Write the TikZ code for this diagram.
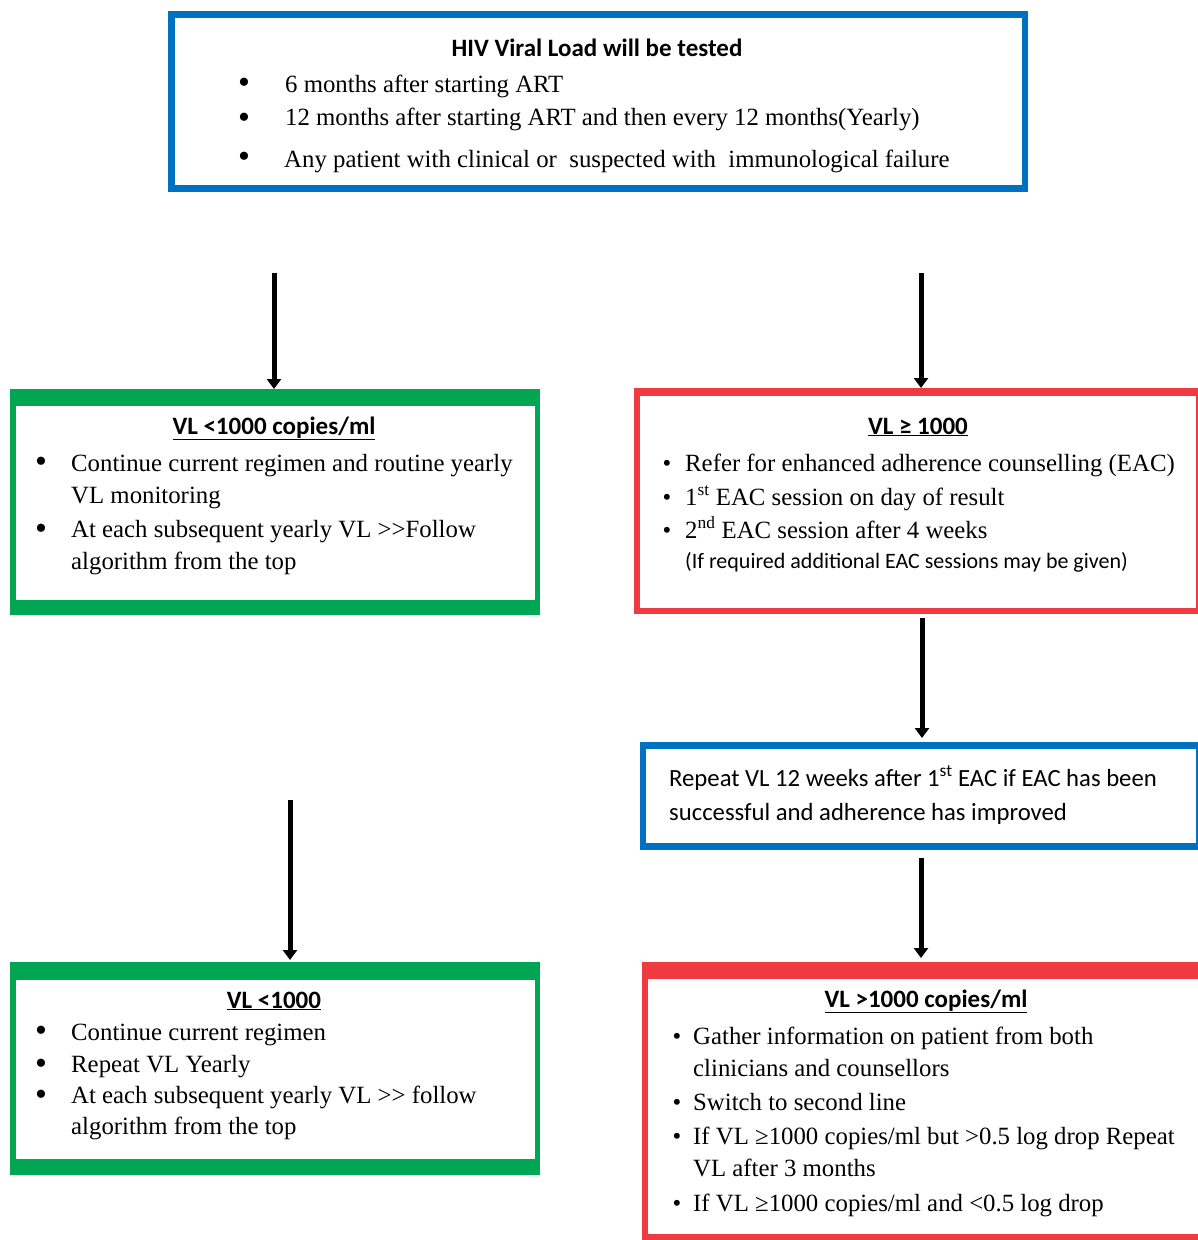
\documentclass[tikz,border=0pt]{standalone}
\usepackage{fontspec}
\setmainfont{Liberation Serif}
\newfontfamily\calib{Carlito}
\usetikzlibrary{arrows.meta}
\definecolor{bl}{RGB}{0,112,192}
\definecolor{gr}{RGB}{0,166,81}
\definecolor{rd}{RGB}{238,58,64}
\begin{document}
\begin{tikzpicture}[x=1pt,y=-1pt,
  box/.style={rectangle,draw=none,inner sep=0,outer sep=0},
  tx/.style={anchor=base west,inner sep=0,font=\fontsize{24.8}{30}\selectfont},
  bu/.style={anchor=base,inner sep=0,font=\fontsize{24.8}{30}\selectfont},
  bub/.style={anchor=base,inner sep=0,font=\fontsize{34}{40}\selectfont},
  hd/.style={anchor=base,inner sep=0,font=\calib\bfseries\fontsize{25}{30}\selectfont},
  ct/.style={anchor=base west,inner sep=0,font=\calib\fontsize{24.7}{30}\selectfont},
  sm/.style={anchor=base west,inner sep=0,font=\calib\fontsize{22}{26}\selectfont},
  arr/.style={line width=5pt,-{Triangle[width=14pt,length=10pt]}}]
\useasboundingbox (0,0) rectangle (1198,1240);
\begin{scope}
\clip (0,0) rectangle (1198,1240);
% boxes
\node[box,fill=bl,minimum width=860pt,minimum height=181pt] (top) at (598,101.5) {};
\fill[white] ([xshift=7pt,yshift=-7pt]top.north west) rectangle ([xshift=-6pt,yshift=7pt]top.south east);
\node[box,fill=gr,minimum width=530pt,minimum height=226pt] (g1) at (275,502) {};
\fill[white] ([xshift=6pt,yshift=-17pt]g1.north west) rectangle ([xshift=-5pt,yshift=15pt]g1.south east);
\node[box,fill=rd,minimum width=565pt,minimum height=226pt] (r1) at (916.5,501) {};
\fill[white] ([xshift=6pt,yshift=-8pt]r1.north west) rectangle ([xshift=-3pt,yshift=6pt]r1.south east);
\node[box,fill=bl,minimum width=559pt,minimum height=108pt] (b2) at (919.5,796) {};
\fill[white] ([xshift=6pt,yshift=-7pt]b2.north west) rectangle ([xshift=-3pt,yshift=7pt]b2.south east);
\node[box,fill=gr,minimum width=530pt,minimum height=213pt] (g2) at (275,1068.5) {};
\fill[white] ([xshift=6pt,yshift=-18pt]g2.north west) rectangle ([xshift=-5pt,yshift=16pt]g2.south east);
\node[box,fill=rd,minimum width=560pt,minimum height=279pt] (r2) at (922,1101.5) {};
\fill[white] ([xshift=6pt,yshift=-17pt]r2.north west) rectangle ([xshift=0pt,yshift=7pt]r2.south east);
\end{scope}
% top box text
\node[hd] (th) at (597,56) {HIV Viral Load will be tested};
\node[bub] (tb1) at (244,93) {•};
\node[tx] (tt1) at (285,92) {6 months after starting ART};
\node[bub] (tb2) at (244,128) {•};
\node[tx] (tt2) at (285,125) {12 months after starting ART and then every 12 months(Yearly)};
\node[bub] (tb3) at (244,167) {•};
\node[tx] (tt3) at (284,167) {Any patient with clinical or\ \ suspected with\ \ immunological failure};
% green 1
\node[hd] (g1h) at (274,434) {\underline{VL <1000 copies/ml}};
\node[bub] (g1b1) at (41,472) {•};
\node[tx] (g1t1) at (71,471) {Continue current regimen and routine yearly};
\node[tx] (g1t2) at (71,503) {VL monitoring};
\node[bub] (g1b2) at (41,539) {•};
\node[tx] (g1t3) at (71,537) {At each subsequent yearly VL >{}>Follow};
\node[tx] (g1t4) at (71,569) {algorithm from the top};
% red 1
\node[hd] (r1h) at (918,434) {\underline{VL ≥ 1000}};
\node[bu] (r1b1) at (667,471) {•};
\node[tx] (r1t1) at (685,471) {Refer for enhanced adherence counselling (EAC)};
\node[bu] (r1b2) at (667,505) {•};
\node[tx] (r1t2) at (685,505) {1\textsuperscript{st} EAC session on day of result};
\node[bu] (r1b3) at (667,538) {•};
\node[tx] (r1t3) at (685,538) {2\textsuperscript{nd} EAC session after 4 weeks};
\node[sm] (r1t4) at (685,568) {(If required additional EAC sessions may be given)};
% blue 2
\node[ct] (b2t1) at (669,786) {Repeat VL 12 weeks after 1\textsuperscript{st} EAC if EAC has been};
\node[ct] (b2t2) at (669,820) {successful and adherence has improved};
% green 2
\node[hd] (g2h) at (274,1008) {\underline{VL <1000}};
\node[bub] (g2b1) at (41,1041) {•};
\node[tx] (g2t1) at (71,1040) {Continue current regimen};
\node[bub] (g2b2) at (41,1074) {•};
\node[tx] (g2t2) at (71,1072) {Repeat VL Yearly};
\node[bub] (g2b3) at (41,1105) {•};
\node[tx] (g2t3) at (71,1103) {At each subsequent yearly VL >{}> follow};
\node[tx] (g2t4) at (71,1134) {algorithm from the top};
% red 2
\node[hd] (r2h) at (926,1007) {\underline{VL >1000 copies/ml}};
\node[bu] (r2b1) at (677,1044) {•};
\node[tx] (r2t1) at (693,1044) {Gather information on patient from both};
\node[tx] (r2t2) at (693,1076) {clinicians and counsellors};
\node[bu] (r2b2) at (677,1110) {•};
\node[tx] (r2t3) at (693,1110) {Switch to second line};
\node[bu] (r2b3) at (677,1144) {•};
\node[tx] (r2t4) at (693,1144) {If VL ≥1000 copies/ml but >0.5 log drop Repeat};
\node[tx] (r2t5) at (693,1176) {VL after 3 months};
\node[bu] (r2b4) at (677,1211) {•};
\node[tx] (r2t6) at (693,1211) {If VL ≥1000 copies/ml and <0.5 log drop};
% arrows
\coordinate (a1) at (274,273);
\coordinate (a2) at (921,273);
\coordinate (a3) at (922,618);
\coordinate (a4) at (290,800);
\coordinate (a5) at (921,858);
\draw[arr] (a1) -- (a1 |- g1.north);
\draw[arr] (a2) -- (a2 |- r1.north);
\draw[arr,shorten >=4pt] (a3) -- (a3 |- b2.north);
\draw[arr,shorten >=2pt] (a4) -- (a4 |- g2.north);
\draw[arr,shorten >=4pt] (a5) -- (a5 |- r2.north);
\end{tikzpicture}
\end{document}
